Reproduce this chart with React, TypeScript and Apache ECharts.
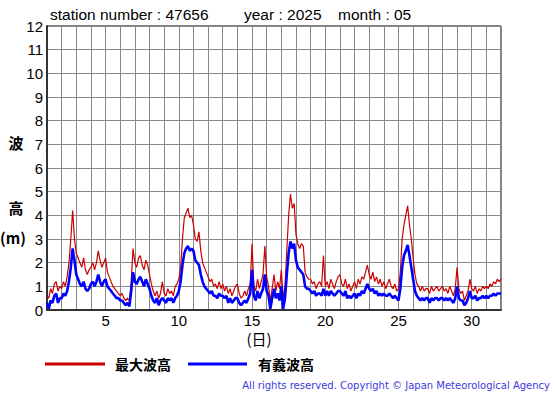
import React, { useEffect, useRef } from "react";
import * as echarts from "echarts";

const titleParts = ["station number : 47656", "year : 2025", "month : 05"];
const yTicks = [0, 12, 1];
const xTicks = [1, 32, 1];
const legendNames = ["最大波高", "有義波高"];
const stepHours = 3;
const startDay = 1;

// 3-hourly values, May 1 00h .. June 1 00h
const maxWave = [
  0.6, 0.5, 0.9, 0.7, 1.1, 1.2, 0.8, 1.0,
  0.9, 1.2, 1.0, 1.4, 2.0, 3.0, 4.2, 3.0,
  2.4, 2.2, 2.0, 1.8, 2.2, 1.7, 1.5, 1.7,
  1.8, 2.0, 1.7, 2.0, 2.5, 2.1, 1.8, 2.0,
  2.2, 1.6, 1.4, 1.2, 1.0, 0.9, 0.8, 0.7,
  0.6, 0.7, 0.5, 0.4, 0.5, 0.4, 1.2, 2.6,
  2.0, 1.8, 2.2, 2.3, 1.9, 1.7, 2.1, 1.9,
  1.5, 1.1, 0.8, 0.6, 0.8, 0.5, 0.7, 1.2,
  0.7, 0.6, 0.9, 0.7, 0.8, 0.6, 1.0, 1.1,
  1.3, 1.8, 3.0, 3.9, 4.1, 4.3, 3.9, 4.0,
  3.6, 3.0, 2.9, 3.3, 2.5, 2.0, 1.8, 1.6,
  1.4, 1.2, 1.3, 1.0, 1.1, 0.9, 1.2, 0.9,
  1.1, 0.8, 1.0, 0.7, 0.9, 0.6, 0.8, 1.0,
  1.1, 0.7, 0.5, 0.6, 0.8, 0.6, 0.9, 1.1,
  2.8, 1.0, 0.8, 1.3, 0.9, 1.2, 1.5, 2.7,
  1.4, 1.0, 0.4, 0.9, 1.5, 0.8, 1.2, 0.9,
  1.7, 0.5, 1.0, 2.5, 4.0, 4.9, 4.3, 4.5,
  3.2, 2.8, 2.6, 2.8, 2.7, 1.6, 1.4, 1.3,
  1.3, 1.1, 1.2, 0.9, 1.1, 1.2, 1.0, 2.3,
  1.0, 1.2, 0.9, 1.3, 1.1, 0.9, 1.2, 1.4,
  1.5, 1.1, 1.0, 1.3, 0.9, 1.1, 0.8, 1.0,
  1.2, 0.9, 1.3, 1.1, 1.4, 1.3, 1.6, 1.9,
  1.5, 1.3, 1.6, 1.2, 1.4, 1.1, 1.3, 1.0,
  1.2, 0.9, 1.1, 1.3, 1.0, 0.9, 1.1, 0.8,
  0.9, 1.6, 3.0, 3.6, 4.0, 4.4, 3.6, 3.0,
  2.2, 1.5, 1.1, 1.0, 0.8, 1.0, 0.8, 0.9,
  0.9, 0.7, 1.0, 0.8, 0.9, 1.0, 0.8, 0.9,
  1.0, 0.8, 0.9, 0.7, 1.0, 0.8, 0.6, 0.9,
  1.8, 0.9, 0.7, 0.8, 0.4, 0.6, 0.8, 1.3,
  0.9, 0.8, 1.0, 0.7, 0.9, 0.8, 1.0, 0.9,
  1.0, 0.9, 1.1, 1.0, 1.2, 1.1, 1.3, 1.2,
  1.3,
];

const sigWave = [
  0.3, 0.05, 0.4, 0.3, 0.6, 0.7, 0.3, 0.5,
  0.5, 0.7, 0.6, 0.8, 1.2, 1.8, 2.6, 2.1,
  1.5, 1.3, 1.1, 1.0, 1.2, 0.9, 0.8, 0.9,
  1.1, 1.2, 1.0, 1.2, 1.5, 1.2, 1.0, 1.2,
  1.3, 1.0, 0.9, 0.8, 0.7, 0.6, 0.5, 0.5,
  0.4, 0.4, 0.3, 0.2, 0.3, 0.15, 0.8, 1.6,
  1.2, 1.1, 1.3, 1.4, 1.2, 1.0, 1.3, 1.1,
  0.9, 0.6, 0.4, 0.3, 0.5, 0.2, 0.4, 0.5,
  0.4, 0.3, 0.5, 0.4, 0.5, 0.3, 0.5, 0.6,
  0.8, 1.2, 1.9, 2.4, 2.6, 2.7, 2.5, 2.6,
  2.5, 2.1, 2.0, 1.9, 1.5, 1.2, 1.0, 0.9,
  0.8, 0.7, 0.8, 0.6, 0.6, 0.5, 0.7, 0.6,
  0.6, 0.5, 0.6, 0.3, 0.5, 0.3, 0.4, 0.5,
  0.5, 0.3, 0.2, 0.3, 0.4, 0.3, 0.5, 0.7,
  1.7, 0.6, 0.4, 0.8, 0.5, 0.7, 0.9, 1.5,
  0.8, 0.6, 0.05, 0.5, 0.9, 0.5, 0.7, 0.4,
  1.0, 0.05, 0.5, 1.5, 2.4, 2.9, 2.6, 2.8,
  2.1, 1.8, 1.7, 1.6, 1.5, 1.0, 0.9, 0.9,
  0.8, 0.7, 0.8, 0.6, 0.7, 0.7, 0.6, 0.9,
  0.6, 0.8, 0.6, 0.8, 0.7, 0.6, 0.7, 0.8,
  0.8, 0.7, 0.6, 0.8, 0.5, 0.6, 0.5, 0.6,
  0.7, 0.5, 0.7, 0.6, 0.8, 0.7, 0.9, 1.1,
  0.9, 0.8, 0.9, 0.7, 0.8, 0.6, 0.7, 0.6,
  0.7, 0.6, 0.6, 0.7, 0.6, 0.5, 0.6, 0.5,
  0.4, 0.9, 1.8, 2.3, 2.5, 2.75, 2.3, 1.8,
  1.3, 0.8, 0.6, 0.5, 0.4, 0.5, 0.4, 0.5,
  0.5, 0.3, 0.5, 0.4, 0.5, 0.5, 0.4, 0.5,
  0.5, 0.4, 0.5, 0.4, 0.5, 0.4, 0.3, 0.5,
  1.0, 0.5, 0.4, 0.4, 0.2, 0.3, 0.5, 0.8,
  0.5, 0.5, 0.6, 0.4, 0.5, 0.5, 0.6, 0.5,
  0.6, 0.5, 0.6, 0.6, 0.7, 0.6, 0.7, 0.7,
  0.7,
];

const toPairs = (arr: number[]) =>
  arr.map((v, i) => [startDay + (i * stepHours) / 24, v]);

const NUM_FONT = "'Liberation Sans', Arial, sans-serif";
const JP_FONT = "'Noto Sans CJK JP', sans-serif";

export default function App() {
  const ref = useRef<HTMLDivElement>(null);
  useEffect(() => {
    if (!ref.current) return;
    const chart = echarts.init(ref.current, null, { renderer: "svg" });
    chart.setOption({
      animation: false,
      backgroundColor: "#ffffff",
      grid: {
        left: 47,
        right: 54,
        top: 26,
        bottom: 85,
        show: true,
        borderColor: "#000",
        borderWidth: 1,
        backgroundColor: "transparent",
      },
      xAxis: {
        type: "value",
        min: xTicks[0],
        max: xTicks[1],
        interval: xTicks[2],
        axisLine: { show: true, onZero: false, lineStyle: { color: "#333", width: 2 } },
        axisTick: { show: false },
        splitLine: { show: true, lineStyle: { color: "#888", width: 1 } },
        axisLabel: {
          fontFamily: NUM_FONT,
          fontSize: 15,
          color: "#000",
          margin: 3,
          formatter: (v: number) => (v % 5 === 0 ? String(v) : ""),
        },
      },
      yAxis: {
        type: "value",
        min: yTicks[0],
        max: yTicks[1],
        interval: yTicks[2],
        axisLine: { show: true, lineStyle: { color: "#333", width: 2 } },
        axisTick: { show: false },
        splitLine: { show: true, lineStyle: { color: "#888", width: 1 } },
        axisLabel: {
          fontFamily: NUM_FONT,
          fontSize: 15,
          color: "#000",
          margin: 4,
        },
      },
      series: [
        {
          name: legendNames[0],
          type: "line",
          data: toPairs(maxWave),
          showSymbol: false,
          lineStyle: { color: "#cc0000", width: 1.2 },
          z: 2,
        },
        {
          name: legendNames[1],
          type: "line",
          data: toPairs(sigWave),
          showSymbol: false,
          lineStyle: { color: "#0000ff", width: 2.6 },
          z: 3,
        },
      ],
      graphic: [
        { type: "text", left: 50, top: 6, style: { text: titleParts[0], font: `15.5px ${NUM_FONT}`, fill: "#000" } },
        { type: "text", left: 244, top: 6, style: { text: titleParts[1], font: `15.5px ${NUM_FONT}`, fill: "#000" } },
        { type: "text", left: 338, top: 6, style: { text: titleParts[2], font: `15.5px ${NUM_FONT}`, fill: "#000" } },
        { type: "text", x: 16, y: 142, style: { text: "波", font: `bold 15px ${JP_FONT}`, fill: "#000", align: "center", verticalAlign: "middle" } },
        { type: "text", x: 16, y: 207, style: { text: "高", font: `bold 15px ${JP_FONT}`, fill: "#000", align: "center", verticalAlign: "middle" } },
        { type: "text", x: 13, y: 237, style: { text: "(m)", font: `bold 15px ${JP_FONT}`, fill: "#000", align: "center", verticalAlign: "middle" } },
        { type: "text", x: 259, y: 338, style: { text: "(日)", font: `15px ${JP_FONT}`, fill: "#000", align: "center", verticalAlign: "middle" } },
        { type: "line", shape: { x1: 45, y1: 364, x2: 105, y2: 364 }, style: { stroke: "#cc0000", lineWidth: 3 } },
        { type: "text", x: 115, y: 364, style: { text: legendNames[0], font: `bold 14px ${JP_FONT}`, fill: "#000", verticalAlign: "middle" } },
        { type: "line", shape: { x1: 188, y1: 364, x2: 247, y2: 364 }, style: { stroke: "#0000ff", lineWidth: 3 } },
        { type: "text", x: 258, y: 364, style: { text: legendNames[1], font: `bold 14px ${JP_FONT}`, fill: "#000", verticalAlign: "middle" } },
        { type: "text", x: 550, y: 385, style: { text: "All rights reserved. Copyright © Japan Meteorological Agency", font: `10px 'DejaVu Sans', sans-serif`, fill: "#3a3ae0", align: "right", verticalAlign: "middle" } },
      ],
    });
    return () => chart.dispose();
  }, []);
  return (
    <div
      ref={ref}
      style={{ position: "fixed", left: 0, top: 0, width: 555, height: 395, background: "#fff" }}
    />
  );
}
